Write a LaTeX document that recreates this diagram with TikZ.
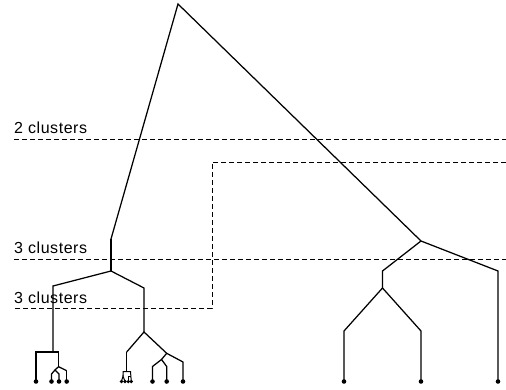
\documentclass[tikz,border=0pt]{standalone}
\usepackage{fontspec}
\setmainfont{Liberation Sans}
\tikzset{
  edge/.style={line width=1.25pt, line join=miter},
  cut/.style={line width=0.8pt, dash pattern=on 5pt off 3pt},
  leaf/.style={circle, fill=black, inner sep=0pt, minimum size=4.6pt},
  tiny/.style={circle, fill=black, inner sep=0pt, minimum size=3.6pt},
  lab/.style={anchor=base west, inner sep=0pt, font=\fontsize{16}{19}\selectfont\addfontfeature{LetterSpace=3.5}}
}
\begin{document}
\begin{tikzpicture}[x=1pt,y=-1pt]
\useasboundingbox (0,0) rectangle (506,390);
% cut lines
\coordinate (c1a) at (14,139); \coordinate (c1b) at (506,139);
\coordinate (c2a) at (14,259.5); \coordinate (c2b) at (506,259.5);
\coordinate (c3a) at (506,162); \coordinate (c3b) at (212,162);
\coordinate (c3c) at (212,308); \coordinate (c3d) at (14,308);
\draw[cut] (c1a) -- (c1b);
\draw[cut] (c2a) -- (c2b);
\draw[cut] (c3a) -- (c3b) -- (c3c) -- (c3d);
\node[lab] (t1) at (14,134) {2 clusters};
\node[lab] (t2) at (14,253) {3 clusters};
\node[lab] (t3) at (14,303) {3 clusters};
% internal points
\coordinate (R) at (178,4);
\coordinate (Atop) at (111,239); \coordinate (A) at (111,271);
\coordinate (A1) at (53,286); \coordinate (A1b) at (53,352);
\coordinate (barL) at (36,352); \coordinate (barR) at (58.5,352);
\coordinate (C) at (58.5,366.7);
\coordinate (C1) at (55,370); \coordinate (C1a) at (51.5,374); \coordinate (C1b) at (59,374);
\coordinate (C2) at (66.7,370.7);
\coordinate (A2) at (144,288); \coordinate (A2b) at (144,332);
\coordinate (D) at (126.7,352); \coordinate (Db) at (126.7,371.5);
\coordinate (DL) at (123,371.5); \coordinate (DR) at (130.5,371.5);
\coordinate (DLb) at (123,376); \coordinate (DRm) at (130.5,376); \coordinate (DRl) at (128.3,376);
\coordinate (E) at (166.7,353.3);
\coordinate (E1) at (161.5,359.5); \coordinate (E1a) at (152.5,366.5); \coordinate (E1b) at (166.7,366.5);
\coordinate (E2) at (183,362);
\coordinate (B) at (421,241);
\coordinate (B1) at (382.5,271); \coordinate (B1b) at (382.5,288);
\coordinate (B1l) at (344,331); \coordinate (B1r) at (421,331);
\coordinate (B2) at (498,271);
% leaves
\node[leaf] (l1) at (36,381.5) {};
\node[leaf] (l2) at (51.5,381.5) {};
\node[leaf] (l3) at (59,381.5) {};
\node[leaf] (l4) at (66.7,381.5) {};
\node[tiny] (l5) at (121.5,381.5) {};
\node[tiny] (l6) at (125,381.5) {};
\node[tiny] (l7) at (128.3,381.5) {};
\node[tiny] (l8) at (131.3,381.5) {};
\node[leaf] (l9) at (152.5,381.5) {};
\node[leaf] (l10) at (166.7,381.5) {};
\node[leaf] (l11) at (183,381.5) {};
\node[leaf] (l12) at (344,381.5) {};
\node[leaf] (l13) at (421,381.5) {};
\node[leaf] (l14) at (498,381.5) {};
% edges
\draw[edge] (Atop) -- (R) -- (B);
\draw[edge] (Atop) -- (A);
\draw[edge] (A1b) -- (A1) -- (A) -- (A2) -- (A2b);
\draw[edge] (l1.center) -- (barL) -- (barR) -- (C);
\draw[edge] (C2) -- (C) -- (C1);
\draw[edge] (l2.center) -- (C1a) -- (C1) -- (C1b) -- (l3.center);
\draw[edge] (C2) -- (l4.center);
\draw[edge] (D) -- (A2b) -- (E);
\draw[edge] (D) -- (Db);
\draw[line width=1pt] (l5.center) -- (DLb) -- (l6.center);
\draw[line width=1pt] (DLb) -- (DL) -- (DR) -- (l8.center);
\draw[line width=1pt] (DRm) -- (DRl) -- (l7.center);
\draw[edge] (E) -- (E1);
\draw[edge] (l9.center) -- (E1a) -- (E1) -- (E1b) -- (l10.center);
\draw[edge] (E) -- (E2) -- (l11.center);
\draw[edge] (B1b) -- (B1) -- (B) -- (B2) -- (l14.center);
\draw[edge] (l12.center) -- (B1l) -- (B1b) -- (B1r) -- (l13.center);
\end{tikzpicture}
\end{document}
